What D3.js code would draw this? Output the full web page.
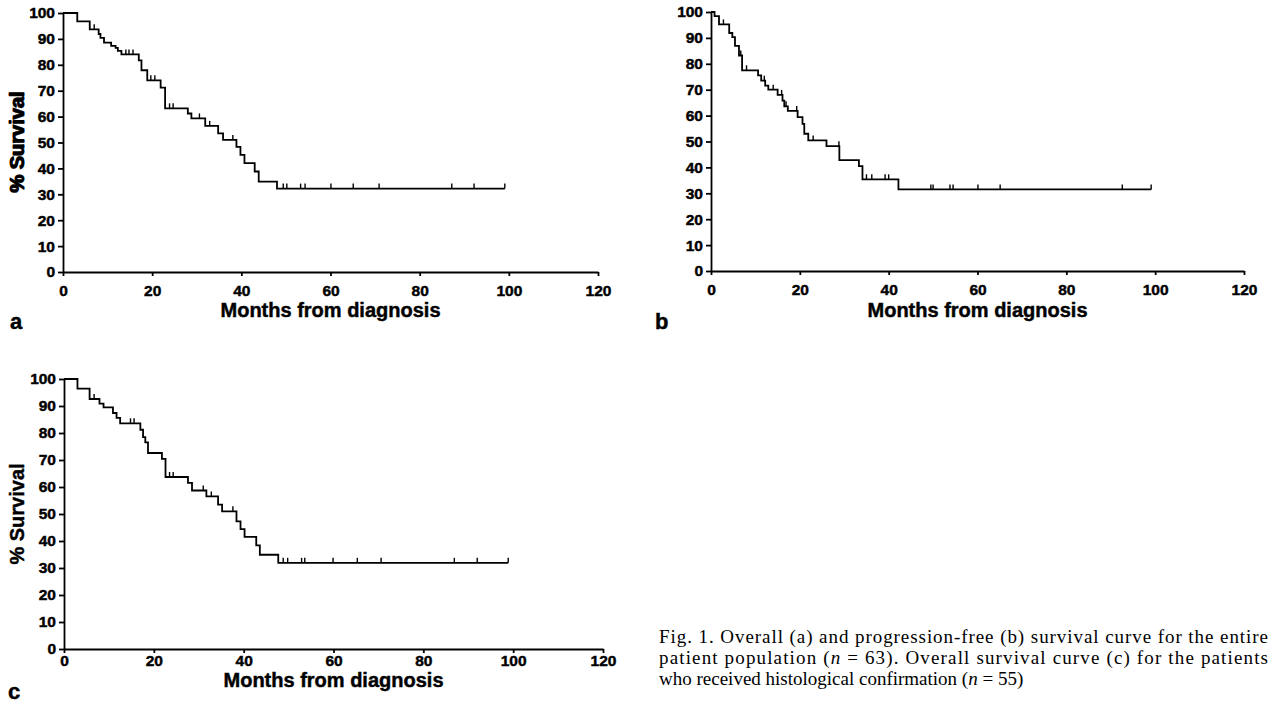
<!DOCTYPE html>
<html lang="en">
    <head>
        <meta charset="UTF-8" />
        <title>Survival curves</title>
        <script src="https://d3js.org/d3.v7.min.js"></script>
        <style>
            body { margin: 0; background: #fff; }
            svg text { fill: #000; }
        </style>
    </head>
    <body>
        <svg width="1275" height="705"></svg>

        <script>
            // axis ticks
            const monthTicks = [0, 20, 40, 60, 80, 100, 120];
            const survivalTicks = [0, 10, 20, 30, 40, 50, 60, 70, 80, 90, 100];

            // panel a - overall survival, all patients
            const aTimes = [0, 3.2, 6.0, 8.0, 8.4, 9.2, 10.8, 11.8, 12.3, 13.1, 17.0, 17.6, 18.9, 21.9, 22.9, 28.0, 28.8, 31.9, 34.8, 35.9, 38.9, 39.8, 40.7, 43.0, 43.9, 48.0];
            const aSurv = [100, 96.8, 93.7, 91.9, 90.4, 88.6, 87.3, 86.5, 85.4, 84.0, 81.7, 77.9, 74.0, 71.2, 63.2, 61.2, 59.3, 56.4, 53.5, 51.0, 48.3, 45.2, 42.0, 38.8, 34.9, 32.2];
            const aCensor = [7.0, 14.1, 14.8, 15.7, 19.7, 20.6, 23.9, 24.7, 30.6, 32.9, 38.1, 49.4, 50.2, 53.3, 54.3, 60.1, 65.1, 70.9, 87.2, 92.2, 99.1];

            // panel b - progression-free survival
            const bTimes = [0, 0.8, 1.8, 4.1, 4.8, 5.4, 6.3, 7.0, 10.6, 11.3, 12.2, 12.9, 15.0, 16.1, 16.5, 17.3, 19.5, 20.6, 21.0, 21.9, 26.0, 28.9, 33.3, 34.1, 42.2];
            const bSurv = [100, 98.4, 95.2, 91.9, 90.3, 86.9, 83.2, 77.5, 75.5, 73.5, 71.6, 70.0, 68.0, 65.8, 63.6, 61.8, 59.4, 56.8, 53.0, 50.4, 48.2, 42.8, 40.5, 35.4, 31.5];
            const bCensor = [2.8, 6.7, 8.0, 12.0, 14.0, 15.9, 16.9, 19.3, 23.0, 28.8, 35.0, 36.2, 39.2, 40.0, 49.5, 50.0, 53.8, 54.5, 60.1, 65.1, 92.6, 99.1];

            // panel c - overall survival, histologically confirmed
            const cTimes = [0, 3.0, 5.7, 7.9, 8.8, 10.9, 11.7, 12.5, 17.0, 17.6, 18.1, 18.7, 21.8, 22.6, 27.6, 28.5, 31.7, 34.3, 35.2, 38.4, 39.3, 40.2, 42.8, 43.6, 47.7];
            const cSurv = [100, 96.4, 92.6, 90.9, 89.5, 87.4, 85.6, 83.6, 81.2, 78.5, 76.5, 72.6, 70.4, 63.7, 61.5, 58.7, 56.5, 53.5, 51.0, 47.3, 44.4, 41.5, 38.4, 34.9, 31.9];
            const cCensor = [6.7, 14.8, 15.6, 23.5, 24.3, 31.0, 32.8, 37.6, 48.8, 49.8, 52.9, 53.6, 59.9, 65.3, 70.6, 86.9, 92.0, 98.9];

            // caption, "n" is set in italics
            const captionLines = [
                "Fig. 1. Overall (a) and progression-free (b) survival curve for the entire",
                "patient population (n = 63). Overall survival curve (c) for the patients",
                "who received histological confirmation (n = 55)",
            ];

            const sans = "'Liberation Sans', Arial, Helvetica, sans-serif";
            const svg = d3.select("svg");

            const panels = [
                { letter: "a", times: aTimes, surv: aSurv, censor: aCensor, end: 99.1,
                  left: 63, top: 13, width: 535, height: 259, labelPad: 9, titleY: 45, letterX: 10, letterY: 57 },
                { letter: "b", times: bTimes, surv: bSurv, censor: bCensor, end: 99.1,
                  left: 711, top: 12, width: 533, height: 259, labelPad: 9, titleY: 46, letterX: 655, letterY: 58 },
                { letter: "c", times: cTimes, surv: cSurv, censor: cCensor, end: 98.9,
                  left: 64, top: 379, width: 539, height: 270, labelPad: 2, titleY: 38, letterX: 8, letterY: 50 },
            ];

            panels.forEach(drawPanel);

            function boldText(sel, size) {
                return sel
                    .style("font-family", sans)
                    .style("font-weight", "bold")
                    .style("font-size", size + "px")
                    .attr("stroke", "#000")
                    .attr("stroke-width", 0.45);
            }

            function drawPanel(p) {
                const g = svg.append("g").attr("transform", `translate(${p.left},${p.top})`);

                const x = d3.scaleLinear().domain([0, 120]).range([0, p.width]);
                const y = d3.scaleLinear().domain([0, 100]).range([p.height, 0]);

                const xAxis = g.append("g")
                    .attr("transform", `translate(0,${p.height})`)
                    .call(d3.axisBottom(x).tickValues(monthTicks).tickSize(4).tickSizeOuter(0).tickPadding(p.labelPad));
                const yAxis = g.append("g")
                    .call(d3.axisLeft(y).tickValues(survivalTicks).tickSize(5).tickSizeOuter(0).tickPadding(3));

                [xAxis, yAxis].forEach((ax) => {
                    ax.selectAll("path, line").attr("stroke", "#000").attr("stroke-width", 1.8);
                    boldText(ax.selectAll("text"), 15.5);
                });

                // step curve
                const pts = p.times.map((t, i) => [t, p.surv[i]]);
                pts.push([p.end, p.surv[p.surv.length - 1]]);

                const line = d3.line()
                    .x((d) => x(d[0]))
                    .y((d) => y(d[1]))
                    .curve(d3.curveStepAfter);

                g.append("path")
                    .datum(pts)
                    .attr("fill", "none")
                    .attr("stroke", "#000")
                    .attr("stroke-width", 1.8)
                    .attr("d", line);

                // censored observations
                const survAt = (t) => p.surv[Math.max(0, d3.bisectRight(p.times, t) - 1)];
                g.selectAll(".censor")
                    .data(p.censor)
                    .enter()
                    .append("line")
                    .attr("class", "censor")
                    .attr("x1", (d) => x(d))
                    .attr("x2", (d) => x(d))
                    .attr("y1", (d) => y(survAt(d)))
                    .attr("y2", (d) => y(survAt(d)) - 5)
                    .attr("stroke", "#000")
                    .attr("stroke-width", 1.4);

                // titles
                boldText(g.append("text"), 20)
                    .attr("x", p.width / 2)
                    .attr("y", p.height + p.titleY)
                    .attr("text-anchor", "middle")
                    .text("Months from diagnosis");

                boldText(g.append("text"), 20)
                    .attr("transform", `translate(${24 - p.left},${p.height / 2}) rotate(-90)`)
                    .attr("text-anchor", "middle")
                    .text("% Survival");

                boldText(svg.append("text"), 22)
                    .attr("x", p.letterX)
                    .attr("y", p.top + p.height + p.letterY)
                    .text(p.letter);
            }

            // caption
            const cap = svg.append("g")
                .style("font-family", "'Liberation Serif', 'Times New Roman', serif")
                .style("font-size", "19px");
            captionLines.forEach((t, i) => {
                const tx = cap.append("text")
                    .attr("x", 659)
                    .attr("y", 643 + i * 21);
                t.split(/(\(n =)/).forEach((part) => {
                    if (part === "(n =") {
                        tx.append("tspan").text("(");
                        tx.append("tspan").style("font-style", "italic").text("n");
                        tx.append("tspan").text(" =");
                    } else {
                        tx.append("tspan").text(part);
                    }
                });
                if (i < 2) tx.attr("textLength", 609).attr("lengthAdjust", "spacing");
            });
        </script>
    </body>
</html>
